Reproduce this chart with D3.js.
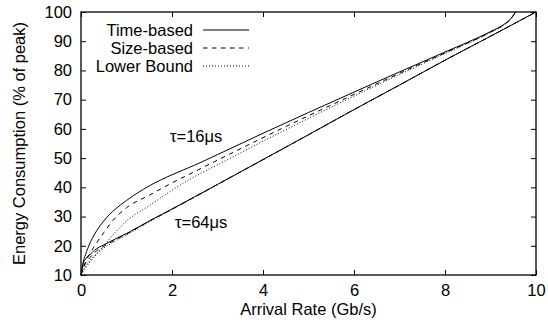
<!DOCTYPE html>
<html><head><meta charset="utf-8">
<script src="https://cdn.jsdelivr.net/npm/d3@7"></script>
<style>html,body{margin:0;padding:0;background:#fff;}svg{display:block;font-family:"Liberation Sans",Arial,sans-serif;}</style>
</head><body>
<script>
// Data
const rate16 = [0, 0.05, 0.1, 0.2, 0.3, 0.5, 0.75, 1, 1.5, 2, 2.5, 3, 4, 5, 6, 7, 8, 9, 9.3, 9.45, 9.52, 9.55];
const time16 = [10, 14.5, 17, 21, 24, 28.5, 32.5, 35.5, 40.5, 44.3, 47.6, 51.2, 58.5, 65.6, 72.6, 79.5, 86.3, 93.3, 95.8, 97.8, 99.3, 100];
const size16 = [10, 12.5, 14.5, 17.5, 20, 24.5, 29.5, 33, 37.3, 41.5, 45.4, 49.3, 57, 64.5, 71.8, 79, 86, 93.1, 95.7, 97.7, 99.2, 100];
const lower16 = [10, 11.5, 12.5, 14.5, 16.3, 20, 24.5, 28.5, 33.7, 39, 43.7, 47.7, 55.8, 63.6, 71.2, 78.6, 85.8, 93, 95.6, 97.6, 99.2, 100];
const rate64 = [0, 0.05, 0.1, 0.2, 0.3, 0.5, 0.75, 1, 1.5, 2, 2.5, 3, 4, 5, 6, 7, 8, 9, 10];
const time64 = [10, 14, 15.5, 17, 18.5, 20.3, 22.3, 24.2, 28.5, 32.6, 36.8, 41, 49.5, 58, 66.6, 75, 83.5, 91.7, 100];
const size64 = [10, 12.5, 14, 16, 17.7, 19.8, 22, 24, 28.4, 32.5, 36.7, 41, 49.5, 58, 66.6, 75, 83.5, 91.7, 100];
const lower64 = [10, 11.5, 13, 15, 16.7, 19.2, 21.6, 23.7, 28.2, 32.4, 36.6, 40.9, 49.4, 58, 66.6, 75, 83.5, 91.7, 100];
const xTicks = [0, 2, 4, 6, 8, 10];
const yTicks = [10, 20, 30, 40, 50, 60, 70, 80, 90, 100];
const legendLabels = ["Time-based", "Size-based", "Lower Bound"];
const styles = [null, "4.5,4.5", "1,2"];

const W = 548, H = 323;
const L = 81, R = 536, T = 12, B = 275;
const svg = d3.select("body").append("svg").attr("width", W).attr("height", H);
const x = d3.scaleLinear().domain([0, 10]).range([L, R]);
const y = d3.scaleLinear().domain([10, 100]).range([B, T]);
const fs = 16.5;

// ticks
const tickLen = 5;
const axB = d3.axisBottom(x).tickValues(xTicks).tickSize(-tickLen).tickPadding(9).tickFormat(d3.format("d"));
const axT = d3.axisTop(x).tickValues(xTicks).tickSize(-tickLen).tickFormat("");
const axL = d3.axisLeft(y).tickValues(yTicks).tickSize(-tickLen).tickPadding(9).tickFormat(d3.format("d"));
const axR = d3.axisRight(y).tickValues(yTicks).tickSize(-tickLen).tickFormat("");
function style(g){ g.select(".domain").remove(); g.selectAll("line").attr("stroke","#000").attr("stroke-width",1); g.selectAll("text").attr("fill","#000").style("font-size", fs+"px").style("font-family","Liberation Sans, Arial, sans-serif"); }
svg.append("g").attr("transform",`translate(0,${B})`).call(axB).call(style);
svg.append("g").attr("transform",`translate(0,${T})`).call(axT).call(style);
svg.append("g").attr("transform",`translate(${L},0)`).call(axL).call(style);
svg.append("g").attr("transform",`translate(${R},0)`).call(axR).call(style);

// frame
svg.append("rect").attr("x",L).attr("y",T).attr("width",R-L).attr("height",B-T)
  .attr("fill","none").attr("stroke","#000").attr("stroke-width",1.3);

// curves
const line = d3.line().x(d=>x(d[0])).y(d=>y(d[1])).curve(d3.curveMonotoneX);
const groups = [[rate16,[time16,size16,lower16]],[rate64,[time64,size64,lower64]]];
groups.forEach(([xs, sers])=>{
  sers.forEach((s,i)=>{
    svg.append("path").datum(xs.map((v,k)=>[v,s[k]])).attr("d",line)
      .attr("fill","none").attr("stroke","#000").attr("stroke-width",1)
      .attr("stroke-dasharray", styles[i]);
  });
});

// legend
legendLabels.forEach((lab,i)=>{
  const yy = 30 + i*18;
  svg.append("text").attr("x",193).attr("y",yy).attr("dy","0.35em").attr("text-anchor","end")
    .style("font-size",fs+"px").text(lab);
  svg.append("line").attr("x1",203).attr("x2",249).attr("y1",yy).attr("y2",yy)
    .attr("stroke","#000").attr("stroke-width",1).attr("stroke-dasharray",styles[i]);
});

// annotations
svg.append("text").attr("x",170).attr("y",142).style("font-size",fs+"px").text("τ=16μs");
svg.append("text").attr("x",175).attr("y",228).style("font-size",fs+"px").text("τ=64μs");

// axis labels
svg.append("text").attr("x",(L+R)/2+0).attr("y",315).attr("text-anchor","middle").style("font-size",fs+"px").text("Arrival Rate (Gb/s)");
svg.append("text").attr("transform",`translate(25,${(T+B)/2}) rotate(-90)`).attr("text-anchor","middle").style("font-size",fs+"px").text("Energy Consumption (% of peak)");
</script>
</body></html>
